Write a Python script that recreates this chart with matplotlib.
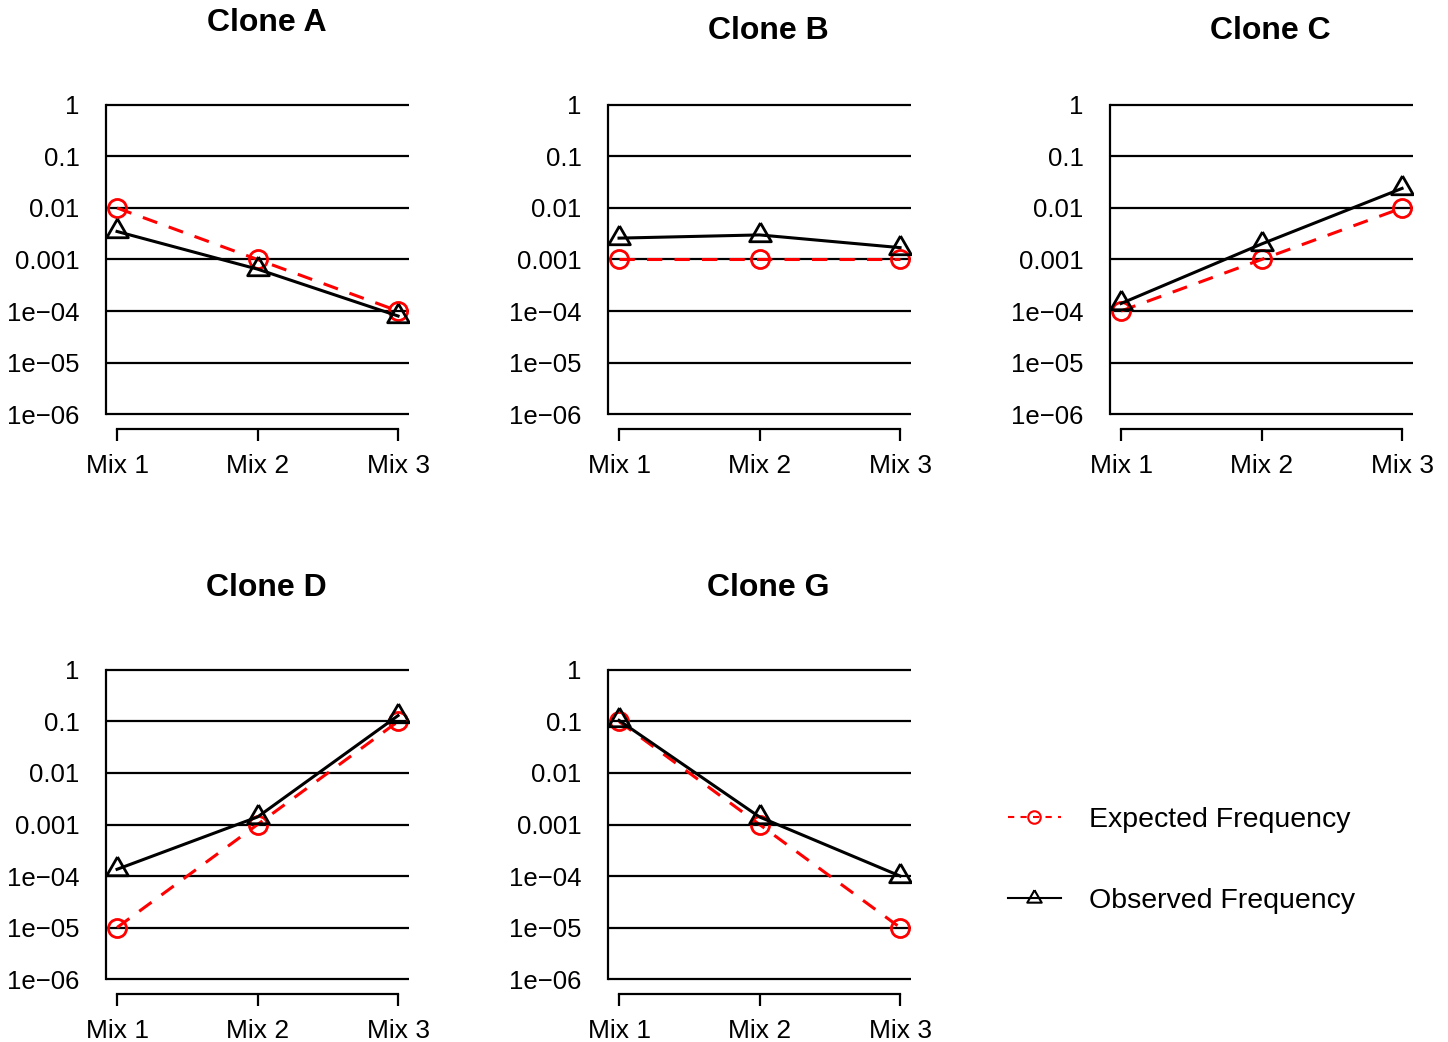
import matplotlib
matplotlib.use("Agg")
import matplotlib.pyplot as plt
from matplotlib.lines import Line2D

plt.rcParams["font.family"] = ["Liberation Sans", "DejaVu Sans"]

# Mixes on the x axis and the decade ticks on the y axis
mixes = ["Mix 1", "Mix 2", "Mix 3"]
decades = [1e-6, 1e-5, 1e-4, 1e-3, 1e-2, 1e-1, 1]
decade_labels = ["1e\u221206", "1e\u221205", "1e\u221204", "0.001", "0.01", "0.1", "1"]

clones = ["Clone A", "Clone B", "Clone C", "Clone D", "Clone G"]

# Expected frequency of each clone per mix
expected_a = [1e-2, 1e-3, 1e-4]
expected_b = [1e-3, 1e-3, 1e-3]
expected_c = [1e-4, 1e-3, 1e-2]
expected_d = [1e-5, 1e-3, 1e-1]
expected_g = [1e-1, 1e-3, 1e-5]

# Observed frequency of each clone per mix
observed_a = [0.0035, 0.00065, 8e-5]
observed_b = [0.0026, 0.0030, 0.0017]
observed_c = [1.4e-4, 0.0020, 0.024]
observed_d = [1.35e-4, 0.0014, 0.13]
observed_g = [0.105, 0.0014, 1e-4]

expected = [expected_a, expected_b, expected_c, expected_d, expected_g]
observed = [observed_a, observed_b, observed_c, observed_d, observed_g]

W, H = 1448, 1042
fig = plt.figure(figsize=(W / 100, H / 100), dpi=100)

# R-style open triangle (point at the centroid)
tri = [(0, 1), (-0.866, -0.5), (0.866, -0.5), (0, 1)]

# panel grid: (column, row, title height above the axes)
panels = [(0, 0, 1.21), (1, 0, 1.186), (2, 0, 1.186), (0, 1, 1.21), (1, 1, 1.21)]

xs = [1, 2, 3]
for k, (col, row, ty) in enumerate(panels):
    left = 105.8 + 502 * col
    top = 92.6 + 565 * row
    w, h = 303.5, 333.8
    ax = fig.add_axes([left / W, 1 - (top + h) / H, w / W, h / H])
    ax.set_yscale("log")
    ax.set_xlim(0.92, 3.08)
    ax.set_ylim(10 ** -6.24, 10 ** 0.24)

    ax.hlines(decades, 0.92, 3.08, color="black", lw=1.6, zorder=1)

    ax.plot(xs, expected[k], color="red", lw=2.2, dashes=(5, 4),
            marker="o", ms=13, mfc="none", mec="red", mew=2, zorder=3)
    ax.plot(xs, observed[k], color="black", lw=2.2,
            marker=tri, ms=18, mfc="none", mec="black", mew=2, zorder=4)

    for s in ["top", "right"]:
        ax.spines[s].set_visible(False)
    ax.spines["left"].set_bounds(1e-6, 1)
    ax.spines["left"].set_linewidth(1.6)
    ax.spines["bottom"].set_bounds(1, 3)
    ax.spines["bottom"].set_linewidth(1.6)
    ax.spines["bottom"].set_position(("outward", 2))

    ax.set_yticks(decades)
    ax.set_yticklabels(decade_labels)
    ax.minorticks_off()
    ax.tick_params(axis="y", length=0, pad=19, labelsize=18.5)
    ax.set_xticks(xs)
    ax.set_xticklabels(mixes)
    ax.tick_params(axis="x", length=8.6, width=1.6, pad=9, labelsize=19)

    ax.text(0.53, ty, clones[k], transform=ax.transAxes, ha="center",
            va="center", fontsize=23, fontweight="bold")

handles = [
    Line2D([], [], color="red", lw=1.5, dashes=(3, 3), marker="o", ms=9,
           mfc="none", mec="red", mew=1.5),
    Line2D([], [], color="black", lw=1.5, marker=tri, ms=12,
           mfc="none", mec="black", mew=1.5),
]
fig.legend(handles, ["Expected Frequency", "Observed Frequency"],
           loc="center left", bbox_to_anchor=(1008 / W, 1 - 860.5 / H),
           frameon=False, fontsize=20.5, handlelength=1.85, handletextpad=1.0,
           labelspacing=1.95, borderpad=0, borderaxespad=0)

fig.savefig("out.png", dpi=100)
